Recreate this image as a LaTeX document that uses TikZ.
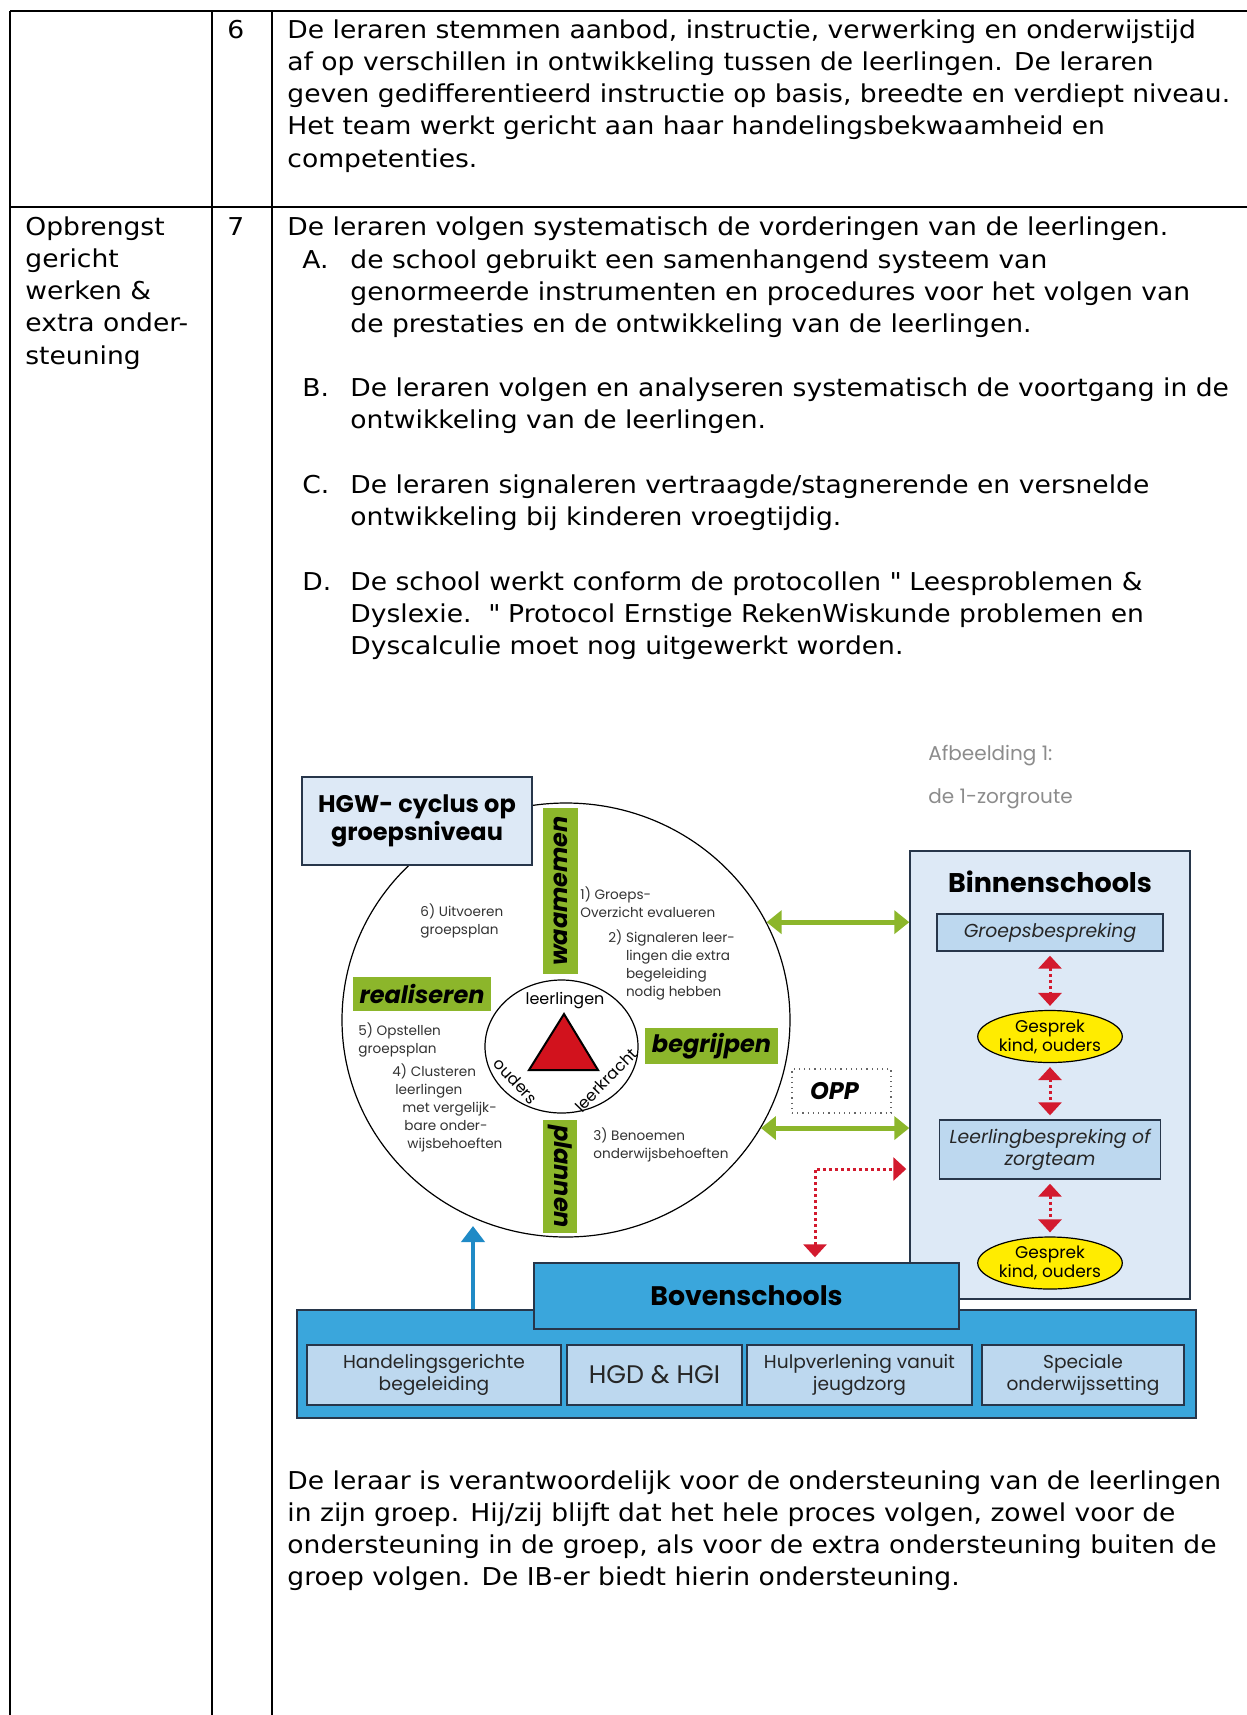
\documentclass[tikz,border=0pt]{standalone}
\usepackage{fontspec}
\setmainfont{DejaVu Sans}[FakeStretch=1.08]
\newfontfamily\figfont{Poppins}
\usetikzlibrary{positioning,arrows.meta,shapes.geometric}

\definecolor{hgwgreen}{HTML}{8CB62B}
\definecolor{paleblue}{HTML}{DDE9F6}
\definecolor{subblue}{HTML}{BDD8EF}
\definecolor{bovblue}{HTML}{3AA6DC}
\definecolor{edgeblue}{HTML}{27364A}
\definecolor{linkblue}{HTML}{1F8AC6}
\definecolor{linkred}{HTML}{D31A2E}
\definecolor{trired}{HTML}{D2121D}
\definecolor{talkyellow}{HTML}{FFEC00}
\definecolor{capgray}{HTML}{8C8C8C}

\newcommand{\bodyfont}{\fontsize{12.3pt}{16.15pt}\selectfont}
\newcommand{\figsize}[2]{\figfont\fontsize{#1}{#2}\selectfont}

\begin{document}
\begin{tikzpicture}[x=0.5pt,y=-0.5pt,
  txt/.style={anchor=base west,inner sep=0pt,align=left,font=\bodyfont},
  rule/.style={line width=1pt},
  panel/.style={draw=edgeblue,line width=0.7pt,inner sep=0pt,align=center},
  subbox/.style={panel,fill=subblue,text=black!85,minimum height=30pt,font={\figsize{9.3pt}{11pt}}},
  gbar/.style={fill=hgwgreen,inner sep=0pt,font={\figsize{12pt}{12pt}\bfseries\itshape}},
  note/.style={anchor=base west,inner sep=0pt,align=left,text=black!80,font={\figsize{6.8pt}{9pt}}},
  talk/.style={ellipse,draw,fill=talkyellow,line width=0.6pt,inner sep=0pt,align=center,
    minimum width=66.5pt,minimum height=26pt,font={\figsize{8.5pt}{9.5pt}}},
  greenlink/.style={hgwgreen,line width=2.5pt,
    {Triangle[width=11.5pt,length=7.5pt]}-{Triangle[width=11.5pt,length=7.5pt]}},
  redlink/.style={linkred,line width=1.5pt,dash pattern=on 1.5pt off 1.5pt,
    {Triangle[width=11.5pt,length=6.5pt]}-{Triangle[width=11.5pt,length=6.5pt]},
    shorten <=2pt,shorten >=2pt},
  bluelink/.style={linkblue,line width=2pt,-{Triangle[width=11.5pt,length=8pt]}}]
\useasboundingbox (0,0) rectangle (1247,1715);

% table
\draw[rule] (10,11) -- (1247,11);
\draw[rule] (10,207) -- (1247,207);
\draw[rule] (10,11) -- (10,1715);
\draw[rule] (212,11) -- (212,1715);
\draw[rule] (272,11) -- (272,1715);

% row 6 (base = last line)
\node[txt] (num6) at (227,38) {6};
\node[txt] (crit6) at (287,167.2) {De leraren stemmen aanbod, instructie, verwerking en onderwijstijd\\
  af op verschillen in ontwikkeling tussen de leerlingen. De leraren\\
  geven gedifferentieerd instructie op basis, breedte en verdiept niveau.\\
  Het team werkt gericht aan haar handelingsbekwaamheid en\\
  competenties.};

% row 7
\node[txt] (area7) at (25,364.2) {Opbrengst\\gericht\\werken \&\\extra onder-\\steuning};
\node[txt] (num7) at (227,235) {7};
\node[txt] (crit7) at (287,235) {De leraren volgen systematisch de vorderingen van de leerlingen.};
\node[txt] (markA) at (302,268) {A.};
\node[txt] (itemA) at (350,332.6) {de school gebruikt een samenhangend systeem van\\
  genormeerde instrumenten en procedures voor het volgen van\\
  de prestaties en de ontwikkeling van de leerlingen.};
\node[txt] (markB) at (302,396) {B.};
\node[txt] (itemB) at (350,428.3) {De leraren volgen en analyseren systematisch de voortgang in de\\
  ontwikkeling van de leerlingen.};
\node[txt] (markC) at (302,493) {C.};
\node[txt] (itemC) at (350,525.3) {De leraren signaleren vertraagde/stagnerende en versnelde\\
  ontwikkeling bij kinderen vroegtijdig.};
\node[txt] (markD) at (302,590) {D.};
\node[txt] (itemD) at (350,654.6) {De school werkt conform de protocollen \textquotedbl\ Leesproblemen \&\\
  Dyslexie.\ \ \textquotedbl\ Protocol Ernstige RekenWiskunde problemen en\\
  Dyscalculie moet nog uitgewerkt worden.};
\node[txt] (closing) at (287,1585.9) {De leraar is verantwoordelijk voor de ondersteuning van de leerlingen\\
  in zijn groep. Hij/zij blijft dat het hele proces volgen, zowel voor de\\
  ondersteuning in de groep, als voor de extra ondersteuning buiten de\\
  groep volgen. De IB-er biedt hierin ondersteuning.};

% figure caption
\node[anchor=base west,inner sep=0pt,text=capgray,font={\figsize{10pt}{11pt}}] (capt) at (928,760) {Afbeelding 1:};
\node[anchor=base west,inner sep=0pt,text=capgray,font={\figsize{10pt}{11pt}}] (capt2) at (928,803) {de 1-zorgroute};

% HGW cycle
\node[draw,ellipse,fill=white,line width=0.6pt,inner sep=0pt,minimum width=224pt,minimum height=217pt] (hgwring) at (566,1020) {};
\node[draw,ellipse,line width=0.6pt,inner sep=0pt,minimum width=76.5pt,minimum height=66.5pt] (core) at (561.5,1046.5) {};
\draw[fill=trired,line width=1pt] (564,1014) -- (529,1070) -- (598,1070) -- cycle;
\node[inner sep=0pt,font={\figsize{8pt}{8pt}}] (lln) at (565,1001) {leerlingen};
\node[inner sep=0pt,rotate=-47,font={\figsize{8pt}{8pt}}] (oud) at (516,1081) {ouders};
\node[inner sep=0pt,rotate=46,font={\figsize{8pt}{8pt}}] (lkr) at (606,1080) {leerkracht};

\node[gbar,rotate=90,minimum width=83pt,minimum height=17.5pt] (waam) at (560.5,891) {waamemen};
\node[gbar,rotate=-90,minimum width=56.5pt,minimum height=17pt] (plan) at (560,1176.5) {plannen};
\node[gbar,minimum width=69pt,minimum height=17pt] (real) at (422,994) {realiseren};
\node[gbar,minimum width=66.5pt,minimum height=18pt] (begr) at (711.5,1046) {begrijpen};

\node[note] (s1) at (580,917) {1) Groeps-\\Overzicht evalueren};
\node[note] (s2) at (608,996) {2) Signaleren leer-\\\phantom{2) }lingen die extra\\\phantom{2) }begeleiding\\\phantom{2) }nodig hebben};
\node[note] (s3) at (593,1158) {3) Benoemen\\onderwijsbehoeften};
\node[note] (s4) at (392,1148) {4) Clusteren\\\hspace*{1.5pt}leerlingen\\\hspace*{5pt}met vergelijk-\\\hspace*{6pt}bare onder-\\\hspace*{7.5pt}wijsbehoeften};
\node[note] (s5) at (358,1053) {5) Opstellen\\groepsplan};
\node[note] (s6) at (420,934) {6) Uitvoeren\\groepsplan};

\node[panel,fill=paleblue,minimum width=115pt,minimum height=44pt,font={\figsize{12pt}{12.5pt}\bfseries}] (hgw) at (417,821) {HGW- cyclus op\\groepsniveau};

% binnenschools
\node[panel,fill=paleblue,minimum width=140pt,minimum height=224pt] (binnen) at (1050,1075) {};
\node[anchor=base,inner sep=0pt,font={\figsize{13.5pt}{13.5pt}\bfseries}] (binnentitle) at (1050,892) {Binnenschools};
\node[subbox,minimum width=113pt,minimum height=18.5pt,font={\figsize{9.4pt}{11pt}\itshape}] (groeps) at (1050,932.5) {Groepsbespreking};
\node[talk] (gesp1) at (1050,1036.5) {Gesprek\\kind, ouders};
\node[subbox,minimum width=110.5pt,minimum height=29.5pt,font={\figsize{9.4pt}{11pt}\itshape}] (leerl) at (1050,1149.5) {Leerlingbespreking of\\zorgteam};
\node[talk] (gesp2) at (1050,1263) {Gesprek\\kind, ouders};

\draw[redlink] (groeps) -- (gesp1);
\draw[redlink] (gesp1) -- (leerl);
\draw[redlink] (leerl) -- (gesp2);

% bovenschools
\node[panel,fill=bovblue,minimum width=449.5pt,minimum height=54pt] (bovouter) at (746.5,1364) {};
\node[panel,fill=bovblue,minimum width=212.5pt,minimum height=33pt,font={\figsize{13.4pt}{13.4pt}\bfseries}] (bovtop) at (746.5,1296) {Bovenschools};
\node[subbox,minimum width=127pt] (sub1) at (434,1375) {Handelingsgerichte\\begeleiding};
\node[subbox,minimum width=87.5pt,font={\figsize{12.7pt}{12.7pt}}] (sub2) at (654.5,1375) {HGD \& HGI};
\node[subbox,minimum width=112.5pt] (sub3) at (859.5,1375) {Hulpverlening vanuit\\jeugdzorg};
\node[subbox,minimum width=101pt] (sub4) at (1083,1375) {Speciale\\onderwijssetting};

% OPP
\node[draw=black!60,dotted,line width=0.6pt,inner sep=0pt,minimum width=49.5pt,minimum height=22pt] (opp) at (841.5,1091) {};
\node[inner sep=0pt,font={\figsize{12pt}{12pt}\bfseries\itshape}] (opptext) at ([xshift=-3.5pt]opp.center) {OPP};

% links
\draw[greenlink] (hgwring.26) -- (hgwring.26 -| binnen.west);
\draw[greenlink] (hgwring.-29) -- (hgwring.-29 -| binnen.west);
\coordinate (elbow) at (815,1169);
\draw[redlink,shorten <=2.5pt,shorten >=1.5pt] (elbow |- bovtop.north) -- (elbow) -- (elbow -| binnen.west);
\coordinate (ringfoot) at (473,1226);
\draw[bluelink] (ringfoot |- bovouter.north) -- (ringfoot);
\end{tikzpicture}
\end{document}
